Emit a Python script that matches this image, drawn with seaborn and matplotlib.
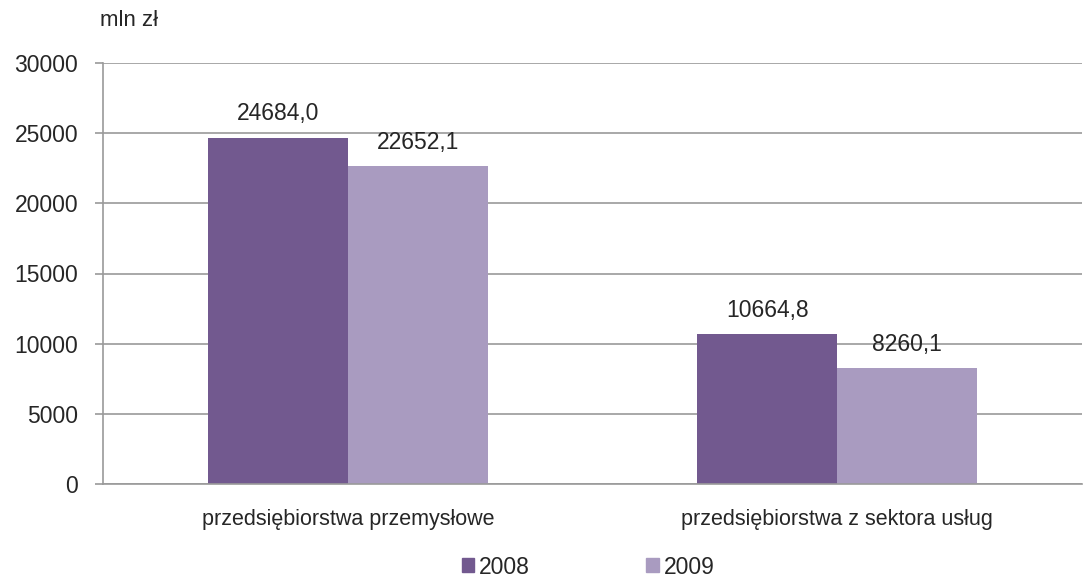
import pandas as pd
import matplotlib.pyplot as plt
import seaborn as sns
from matplotlib.patches import Patch

categories = ['przedsiębiorstwa przemysłowe', 'przedsiębiorstwa z sektora usług']
years = ['2008', '2009']
values_2008 = [24684.0, 10664.8]
values_2009 = [22652.1, 8260.1]
colors = ['#72598F', '#A99BC0']

df = pd.DataFrame({
    'kategoria': categories * 2,
    'rok': [years[0]] * 2 + [years[1]] * 2,
    'wartosc': values_2008 + values_2009,
})

sns.set_style('white')
plt.rcParams['font.family'] = ['Liberation Sans', 'DejaVu Sans']

fig = plt.figure(figsize=(10.85, 5.77), dpi=100)
ax = fig.add_axes([103 / 1085, 1 - 484 / 577, 979 / 1085, 421 / 577])

sns.barplot(data=df, x='kategoria', y='wartosc', hue='rok', palette=colors,
            width=0.572, saturation=1, linewidth=0, ax=ax, legend=False)

# etykiety z wartościami (przecinek dziesiętny)
for container in ax.containers:
    labels = [f'{v:.1f}'.replace('.', ',') for v in container.datavalues]
    ax.bar_label(container, labels=labels, padding=9, fontsize=16.5)

ax.set_ylim(0, 30000)
ax.set_xlim(-0.5, 1.5)
ax.set_yticks(range(0, 30001, 5000))
ax.yaxis.grid(True, color='#9a9a9a', linewidth=1.2)
ax.set_axisbelow(True)
ax.set_xlabel('')
ax.set_ylabel('')

for side in ['top', 'right']:
    ax.spines[side].set_visible(False)
for side in ['left', 'bottom']:
    ax.spines[side].set_color('#9a9a9a')
    ax.spines[side].set_linewidth(1.2)

ax.set_xticks([0, 1])
ax.set_xticklabels(categories)
ax.tick_params(axis='x', length=0, pad=18, labelsize=15.5)
ax.set_xticks([-0.5, 0.5, 1.5], minor=True)
ax.tick_params(axis='x', which='minor', length=6, color='#9a9a9a', width=1.2, direction='out')
ax.tick_params(axis='y', length=6, color='#9a9a9a', width=1.2, direction='out', labelsize=16.5, pad=12)
ax.yaxis.set_tick_params(which='both', left=True)

fig.text(100 / 1085, 1 - 21 / 577, 'mln zł', fontsize=16, va='center')

handles = [Patch(color=c, label=y) for c, y in zip(colors, years)]
fig.legend(handles=handles, loc='center', bbox_to_anchor=(588 / 1085, 1 - 567 / 577),
           ncol=2, frameon=False, fontsize=16.5, handlelength=0.55, handleheight=0.55,
           handletextpad=0.2, columnspacing=5.1, borderpad=0)

fig.savefig('out.png', dpi=100)
